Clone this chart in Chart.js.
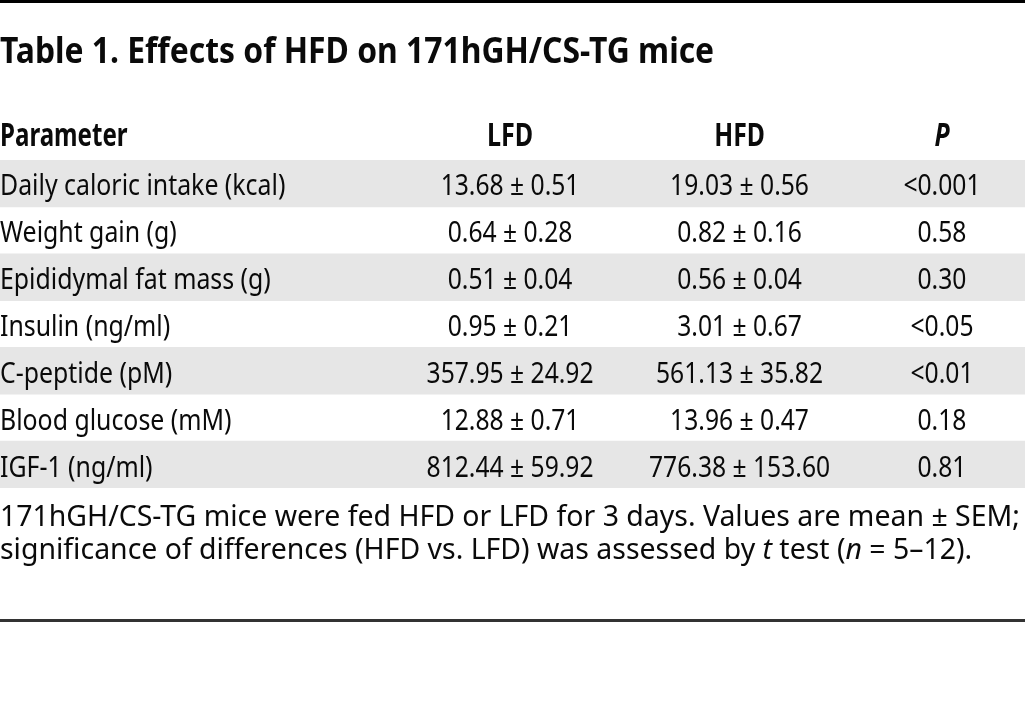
<!DOCTYPE html>
<html>
<head>
<meta charset="utf-8">
<script src="https://cdn.jsdelivr.net/npm/chart.js@4.4.1/dist/chart.umd.min.js"></script>
<style>
  html, body { margin: 0; padding: 0; background: #fff; }
  #wrap { width: 1025px; height: 707px; position: relative; }
</style>
</head>
<body>
<div id="wrap"><canvas id="tableChart"></canvas></div>
<script>
const tableTitle = 'Table 1. Effects of HFD on 171hGH/CS-TG mice';
const columnHeaders = ['Parameter', 'LFD', 'HFD', 'P'];
const parameters = [
  'Daily caloric intake (kcal)',
  'Weight gain (g)',
  'Epididymal fat mass (g)',
  'Insulin (ng/ml)',
  'C-peptide (pM)',
  'Blood glucose (mM)',
  'IGF-1 (ng/ml)'
];
const lfdMean = [13.68, 0.64, 0.51, 0.95, 357.95, 12.88, 812.44];
const lfdSem = [0.51, 0.28, 0.04, 0.21, 24.92, 0.71, 59.92];
const hfdMean = [19.03, 0.82, 0.56, 3.01, 561.13, 13.96, 776.38];
const hfdSem = [0.56, 0.16, 0.04, 0.67, 35.82, 0.47, 153.60];
const pValues = ['<0.001', '0.58', '0.30', '<0.05', '<0.01', '0.18', '0.81'];
const footnoteLine1 = [['171hGH/CS-TG mice were fed HFD or LFD for 3 days. Values are mean \u00b1 SEM;', false]];
const footnoteLine2 = [
  ['significance of differences (HFD vs. LFD) was assessed by ', false],
  ['t', true],
  [' test (', false],
  ['n', true],
  [' = 5\u201312).', false]
];

// layout (fractions of the x scale for the centred columns)
const colCenters = [0.4976, 0.7215, 0.919];
const family = '"Noto Sans", "Open Sans", sans-serif';

function fmt(m, s) {
  return m.toFixed(2) + ' \u00b1 ' + s.toFixed(2);
}

// draw text squeezed horizontally by k (the original uses a condensed face)
function squeezed(ctx, text, x, y, k, align) {
  ctx.save();
  ctx.translate(x, y);
  ctx.scale(k, 1);
  ctx.textAlign = align;
  ctx.fillText(text, 0, 0);
  ctx.restore();
}

const tablePlugin = {
  id: 'tableText',
  beforeDraw(chart) {
    const ctx = chart.ctx;
    ctx.save();
    ctx.fillStyle = '#fff';
    ctx.fillRect(0, 0, chart.width, chart.height);
    ctx.restore();
  },
  afterDatasetsDraw(chart) {
    const ctx = chart.ctx;
    const x = chart.scales.x;
    const y = chart.scales.y;
    const area = chart.chartArea;
    ctx.save();

    // rules
    ctx.fillStyle = '#000';
    ctx.fillRect(0, 0, chart.width, 3);
    ctx.fillStyle = '#333';
    ctx.fillRect(0, 619, chart.width, 3);

    ctx.fillStyle = '#0a0a0a';
    ctx.textBaseline = 'alphabetic';

    // title
    ctx.font = 'bold 35px ' + family;
    squeezed(ctx, tableTitle, 0, 63, 0.91, 'left');

    // header
    const hy = area.top - 14;
    ctx.font = 'bold 33px ' + family;
    squeezed(ctx, columnHeaders[0], 0, hy, 0.73, 'left');
    squeezed(ctx, columnHeaders[1], x.getPixelForValue(colCenters[0]), hy, 0.76, 'center');
    squeezed(ctx, columnHeaders[2], x.getPixelForValue(colCenters[1]), hy, 0.75, 'center');
    ctx.font = 'italic bold 33px ' + family;
    squeezed(ctx, columnHeaders[3], x.getPixelForValue(colCenters[2]), hy, 0.75, 'center');

    // body
    ctx.font = '29px ' + family;
    parameters.forEach((p, i) => {
      const by = y.getPixelForValue(i) + 12;
      squeezed(ctx, p, 0, by, 0.857, 'left');
      squeezed(ctx, fmt(lfdMean[i], lfdSem[i]), x.getPixelForValue(colCenters[0]), by, 0.85, 'center');
      squeezed(ctx, fmt(hfdMean[i], hfdSem[i]), x.getPixelForValue(colCenters[1]), by, 0.85, 'center');
      squeezed(ctx, pValues[i], x.getPixelForValue(colCenters[2]), by, 0.85, 'center');
    });

    // footnote
    ctx.textAlign = 'left';
    ctx.font = '24px ' + family;
    const w1 = ctx.measureText(footnoteLine1[0][0]).width;
    const size = 24 * 1020 / w1;
    const drawLine = (segs, ly) => {
      let cx = 0;
      segs.forEach(([t, it]) => {
        ctx.font = (it ? 'italic ' : '') + size.toFixed(2) + 'px ' + family;
        ctx.fillText(t, cx, ly);
        cx += ctx.measureText(t).width;
      });
    };
    drawLine(footnoteLine1, area.bottom + 38);
    drawLine(footnoteLine2, area.bottom + 71);
    ctx.restore();
  }
};

new Chart(document.getElementById('tableChart'), {
  type: 'bar',
  data: {
    labels: parameters,
    datasets: [{
      label: 'rows',
      data: parameters.map(() => 1),
      backgroundColor: c => (c.dataIndex % 2 === 0 ? '#e6e6e6' : 'rgba(0,0,0,0)'),
      borderWidth: 0,
      barPercentage: 1,
      categoryPercentage: 1
    }]
  },
  plugins: [tablePlugin],
  options: {
    indexAxis: 'y',
    responsive: true,
    maintainAspectRatio: false,
    animation: false,
    layout: { padding: { top: 160, bottom: 219, left: 0, right: 0 } },
    scales: {
      x: { display: false, min: 0, max: 1 },
      y: { display: false, offset: true }
    },
    plugins: {
      legend: { display: false },
      tooltip: { enabled: false }
    }
  }
});
</script>
</body>
</html>
